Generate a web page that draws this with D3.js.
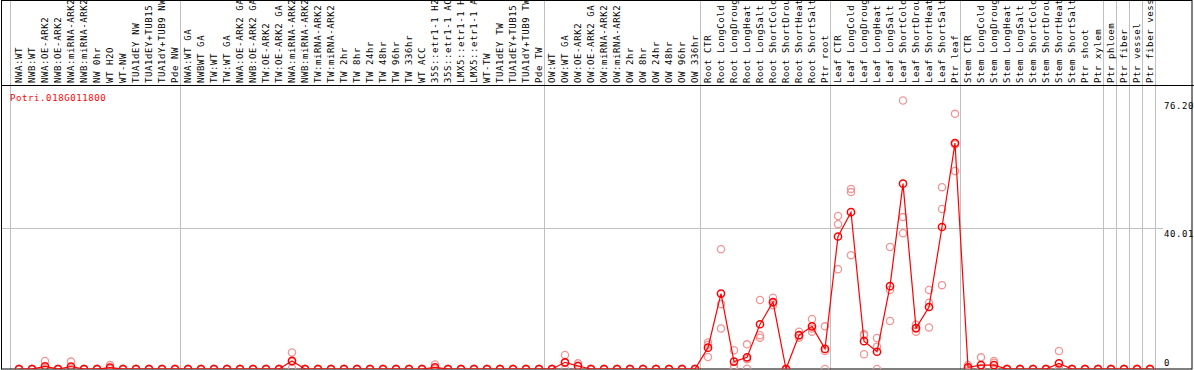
<!DOCTYPE html>
<html>
<head>
<meta charset="utf-8">
<script src="https://cdn.jsdelivr.net/npm/d3@7"></script>
<style>
  html, body { margin: 0; padding: 0; background: #fff; }
  svg { display: block; }
  .lbl { font-family: "DejaVu Sans Mono", monospace; font-size: 9px; letter-spacing: 0.6px; fill: #000; }
</style>
</head>
<body>
<div id="chart"></div>
<script>
// sample names, left to right
var categories = [
  'NWA:WT', 'NWB:WT', 'NWA:OE-ARK2', 'NWB:OE-ARK2', 'NWA:miRNA-ARK2', 'NWB:miRNA-ARK2',
  'NW 0hr', 'WT H2O', 'WT-NW', 'TUA1dEY NW', 'TUA1dEY+TUB15 NW', 'TUA1dY+TUB9 NW', 'Pde NW',
  'NWA:WT GA', 'NWBWT GA', 'TW:WT', 'TW:WT GA', 'NWA:OE-ARK2 GA', 'NWB:OE-ARK2 GA',
  'TW:OE-ARK2', 'TW:OE-ARK2 GA', 'NWA:miRNA-ARK2 GA', 'NWB:miRNA-ARK2 GA', 'TW:miRNA-ARK2',
  'TW:miRNA-ARK2 GA', 'TW 2hr', 'TW 8hr', 'TW 24hr', 'TW 48hr', 'TW 96hr', 'TW 336hr', 'WT ACC',
  '35S::etr1-1 H2O', '35S::etr1-1 ACC', 'LMX5::etr1-1 H2O', 'LMX5::etr1-1 ACC', 'WT-TW',
  'TUA1dEY TW', 'TUA1dEY+TUB15 TW', 'TUA1dY+TUB9 TW', 'Pde TW',
  'OW:WT', 'OW:WT GA', 'OW:OE-ARK2', 'OW:OE-ARK2 GA', 'OW:miRNA-ARK2', 'OW:miRNA-ARK2 GA',
  'OW 2hr', 'OW 8hr', 'OW 24hr', 'OW 48hr', 'OW 96hr', 'OW 336hr',
  'Root CTR', 'Root LongCold', 'Root LongDrought', 'Root LongHeat', 'Root LongSalt',
  'Root ShortCold', 'Root ShortDrought', 'Root ShortHeat', 'Root ShortSalt', 'Ptr root',
  'Leaf CTR', 'Leaf LongCold', 'Leaf LongDrought', 'Leaf LongHeat', 'Leaf LongSalt',
  'Leaf ShortCold', 'Leaf ShortDrought', 'Leaf ShortHeat', 'Leaf ShortSalt', 'Ptr leaf',
  'Stem CTR', 'Stem LongCold', 'Stem LongDrought', 'Stem LongHeat', 'Stem LongSalt',
  'Stem ShortCold', 'Stem ShortDrought', 'Stem ShortHeat', 'Stem ShortSalt', 'Ptr shoot',
  'Ptr xylem', 'Ptr phloem', 'Ptr fiber', 'Ptr vessel', 'Ptr fiber vessel'
];

// mean expression per sample
var means = [
  0, 0, 0.76, 0, 0.7, 0, 0, 0.37, 0, 0, 0, 0, 0,
  0, 0, 0, 0, 0, 0, 0, 0, 2.3, 0, 0, 0, 0, 0, 0, 0, 0, 0, 0,
  0.45, 0, 0, 0, 0, 0, 0, 0, 0,
  0, 1.9, 0.85, 0, 0, 0, 0, 0, 0, 0, 0, 0,
  6.05, 21.4, 2.1, 3.3, 12.7, 19.0, 0, 9.6, 12.1, 5.7,
  37.6, 44.5, 7.9, 4.9, 23.5, 52.6, 11.6, 17.6, 40.3, 64.1,
  0.5, 1.1, 1.1, 0, 0, 0, 0, 1.6, 0, 0,
  0, 0, 0, 0, 0
];

// replicate values (three per sample), only where non zero
var replicates = {
  'NWA:OE-ARK2': [2.3, 0, 0],
  'NWA:miRNA-ARK2': [2.1, 0, 0],
  'WT H2O': [1.1, 0, 0],
  'NWA:miRNA-ARK2 GA': [4.7, 2.0, 0.2],
  '35S::etr1-1 H2O': [1.3, 0, 0],
  'OW:WT GA': [4.0, 1.7, 0],
  'OW:OE-ARK2': [1.6, 0.9, 0],
  'Root CTR': [7.5, 6.9, 3.4],
  'Root LongCold': [34.0, 18.4, 11.5],
  'Root LongDrought': [5.3, 0.8, 0.2],
  'Root LongHeat': [7.0, 2.8, 0.1],
  'Root LongSalt': [19.6, 9.6, 8.9],
  'Root ShortCold': [20.2, 18.8, 18.1],
  'Root ShortHeat': [10.6, 9.5, 8.9],
  'Root ShortSalt': [14.2, 11.5, 10.6],
  'Ptr root': [12.1, 5.1, 0],
  'Leaf CTR': [43.4, 41.1, 28.3],
  'Leaf LongCold': [51.1, 50.2, 32.3],
  'Leaf LongDrought': [9.9, 9.6, 4.2],
  'Leaf LongHeat': [8.8, 6.3, 0],
  'Leaf LongSalt': [34.6, 22.4, 13.6],
  'Leaf ShortCold': [76.2, 43.1, 38.5],
  'Leaf ShortDrought': [12.6, 11.5, 10.6],
  'Leaf ShortHeat': [22.4, 18.8, 11.8],
  'Leaf ShortSalt': [51.6, 45.4, 23.8],
  'Ptr leaf': [72.4, 63.7, 56.2],
  'Stem CTR': [1.1, 0.4, 0],
  'Stem LongCold': [3.3, 0.3, 0],
  'Stem LongDrought': [2.3, 1.8, 0],
  'Stem ShortHeat': [5.1, 0, 0]
};

// last sample of each group (grey separators)
var groupEnds = ['Pde NW', 'Pde TW', 'OW 336hr', 'Ptr root', 'Ptr leaf',
  'Ptr xylem', 'Ptr phloem', 'Ptr fiber', 'Ptr vessel', 'Ptr fiber vessel'];

var yTicks = [0, 40.01, 76.20];
var yMax = 80.02;
var geneName = 'Potri.018G011800';

var width = 1194, height = 370;
var headerBottom = 85;
var plotBottom = 369;
var rightEdge = 1192;

var svg = d3.select('#chart').append('svg')
    .attr('width', width)
    .attr('height', height);

var x = d3.scaleBand()
    .domain(categories)
    .range([12.5, 12.5 + categories.length * 13]);
var cx = function(name) { return x(name) + x.bandwidth() / 2; };

var y = d3.scaleLinear()
    .domain([0, yMax])
    .range([plotBottom, 87]);

// grey grid lines
var sepX = [cx(categories[0]) - 9].concat(groupEnds.map(function(n) { return cx(n) + 5; }));
svg.selectAll('.vsep')
    .data(sepX)
    .enter()
    .append('line')
    .attr('x1', function(d) { return Math.round(d) + 0.5; })
    .attr('x2', function(d) { return Math.round(d) + 0.5; })
    .attr('y1', 0)
    .attr('y2', plotBottom)
    .attr('stroke', '#c0c0c0')
    .attr('stroke-width', 1);

svg.append('line')
    .attr('x1', 1).attr('x2', 1163)
    .attr('y1', Math.round(y(yTicks[1])) + 0.5)
    .attr('y2', Math.round(y(yTicks[1])) + 0.5)
    .attr('stroke', '#c0c0c0');

// black frame and header line
svg.append('rect')
    .attr('x', 1.5).attr('y', 0.5)
    .attr('width', rightEdge - 1.5).attr('height', plotBottom - 0.5)
    .attr('fill', 'none')
    .attr('stroke', '#000');
svg.append('line')
    .attr('x1', 1).attr('x2', width)
    .attr('y1', headerBottom + 0.5).attr('y2', headerBottom + 0.5)
    .attr('stroke', '#000');

// rotated sample labels
svg.selectAll('.lbl-x')
    .data(categories)
    .enter()
    .append('text')
    .attr('class', 'lbl')
    .attr('transform', function(d) { return 'translate(' + (cx(d) + 2.5) + ',' + 83 + ') rotate(-90)'; })
    .text(function(d) { return d; });

// y labels on the right
svg.selectAll('.lbl-y')
    .data(yTicks)
    .enter()
    .append('text')
    .attr('class', 'lbl')
    .attr('x', 1164)
    .attr('y', function(d) { return d === 0 ? 366 : y(d) + 9; })
    .attr('font-size', '10px')
    .text(function(d) { return d === 0 ? '0' : d.toFixed(2); });

// gene title
svg.append('text')
    .attr('class', 'lbl')
    .attr('x', 10)
    .attr('y', 101)
    .style('fill', '#ff0000')
    .text(geneName);

// clip marks at the plot area
svg.append('clipPath').attr('id', 'plotclip')
    .append('rect')
    .attr('x', 2).attr('y', headerBottom + 1)
    .attr('width', rightEdge - 2).attr('height', plotBottom - headerBottom - 1);

var marks = svg.append('g').attr('clip-path', 'url(#plotclip)');

// replicate points
var repPoints = [];
categories.forEach(function(c) {
    var r = replicates[c] || [0, 0, 0];
    r.forEach(function(v) { repPoints.push({ name: c, value: v }); });
});

marks.selectAll('.rep')
    .data(repPoints)
    .enter()
    .append('circle')
    .attr('cx', function(d) { return cx(d.name); })
    .attr('cy', function(d) { return y(d.value); })
    .attr('r', 3.6)
    .attr('fill', 'none')
    .attr('stroke', '#f09696')
    .attr('stroke-width', 1.3);

// mean line
var line = d3.line()
    .x(function(d, i) { return cx(categories[i]); })
    .y(function(d) { return y(d); });

marks.append('path')
    .datum(means)
    .attr('d', line)
    .attr('fill', 'none')
    .attr('stroke', '#ff0000')
    .attr('stroke-width', 1.2);

marks.selectAll('.mean')
    .data(means)
    .enter()
    .append('circle')
    .attr('cx', function(d, i) { return cx(categories[i]); })
    .attr('cy', function(d) { return y(d); })
    .attr('r', 3.6)
    .attr('fill', 'none')
    .attr('stroke', '#ff0000')
    .attr('stroke-width', 1.5);
</script>
</body>
</html>
